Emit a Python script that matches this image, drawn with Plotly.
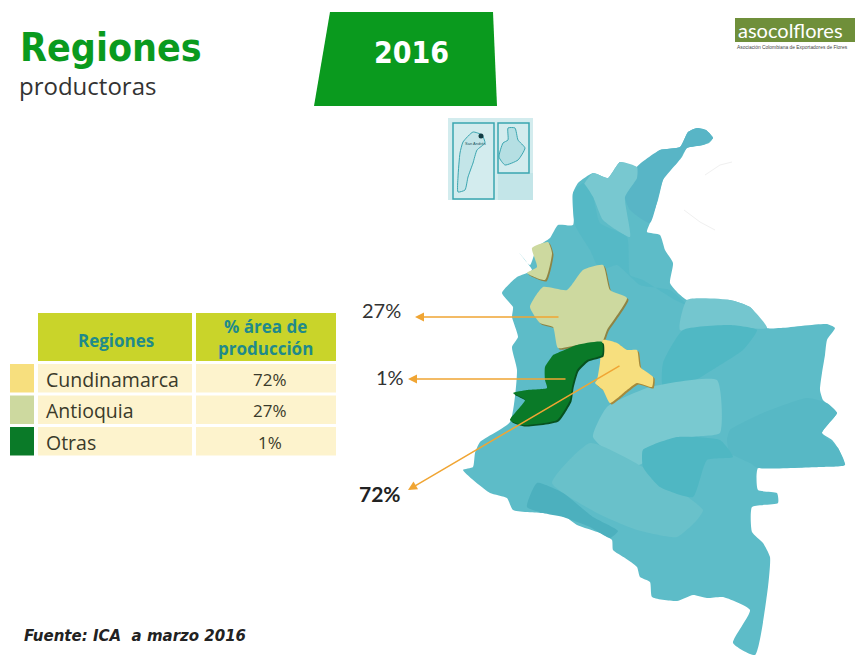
import plotly.graph_objects as go

# table values
regions = ['Cundinamarca', 'Antioquia', 'Otras']
shares = ['72%', '27%', '1%']
region_colors = ['#f7df7e', '#cdd99f', '#0a7a28']

# outlines, x and y in picture pixels
country_x = [697, 706, 713, 709, 703, 687, 682, 677, 668, 663, 658, 650, 647, 660, 665, 673, 670, 678, 687, 730, 750, 767, 780, 827, 835, 827, 825, 822,
             820, 823, 837, 829, 822, 832, 838, 845, 835, 820, 810, 803, 758, 758, 777, 778, 752, 752, 763, 770, 768, 755,
             733, 750, 723, 707, 693, 677, 652, 650, 640, 637, 625, 613, 612, 600, 577, 560, 543, 513, 507, 490, 463,
             473, 475, 480, 510, 517, 512, 518, 512, 513, 502, 517, 527, 532, 517, 530, 537, 550, 558, 573, 573,
             578, 593, 608, 620, 637, 650, 660, 680, 688]
country_y = [128, 130, 138, 143, 145, 148, 157, 163, 170, 180, 200, 223, 232, 235, 250, 263, 283, 293, 300, 300, 307, 328, 328, 324, 328, 340, 355, 373,
             390, 400, 413, 423, 433, 440, 448, 465, 457, 467, 460, 467, 468, 490, 493, 503, 507, 532, 543, 557, 587, 655,
             643, 610, 597, 598, 595, 601, 597, 582, 577, 567, 558, 550, 540, 533, 525, 513, 513, 510, 498, 493, 470,
             467, 453, 442, 422, 370, 347, 337, 317, 307, 293, 277, 273, 270, 250, 265, 247, 238, 225, 225, 193,
             183, 173, 178, 162, 167, 158, 150, 147, 132]

guajira_x = [637, 660, 680, 688, 697, 706, 713, 703, 687, 677, 663, 650, 630, 625, 637]
guajira_y = [167, 150, 147, 132, 128, 130, 138, 145, 148, 163, 180, 223, 210, 197, 178]
magdalena_x = [593, 608, 620, 637, 637, 625, 630, 603, 593, 583]
magdalena_y = [173, 178, 162, 167, 178, 197, 237, 220, 197, 187]
bolivar_x = [573, 583, 593, 600, 627, 630, 643, 675, 687, 670, 640, 617, 600, 590, 575]
bolivar_y = [193, 183, 197, 223, 237, 275, 280, 300, 305, 290, 285, 265, 270, 250, 225]
arauca_x = [687, 730, 750, 767, 730, 680]
arauca_y = [300, 300, 307, 328, 327, 330]
casanare_x = [663, 683, 730, 757, 743, 717, 690, 663]
casanare_y = [363, 330, 325, 330, 350, 367, 383, 387]
meta_x = [593, 607, 650, 717, 720, 690, 643, 643, 630]
meta_y = [437, 407, 387, 380, 433, 437, 450, 463, 467]
guaviare_x = [552, 590, 643, 703, 697, 677, 637, 597]
guaviare_y = [483, 443, 467, 510, 520, 537, 530, 513]
guainia_x = [730, 763, 807, 827, 837, 822, 838, 845, 820, 758, 750, 730, 727]
guainia_y = [430, 413, 398, 403, 413, 433, 448, 465, 467, 468, 463, 453, 440]
vaupes_x = [643, 677, 720, 733, 707, 693, 660, 643]
vaupes_y = [450, 437, 440, 457, 460, 497, 487, 467]
putumayo_x = [527, 537, 563, 593, 618, 610, 590, 563, 543]
putumayo_y = [507, 483, 493, 517, 531, 538, 527, 517, 513]

antioquia_x = [530, 543, 567, 583, 603, 610, 627, 607, 602, 577, 558, 553, 540]
antioquia_y = [307, 287, 290, 270, 265, 290, 298, 330, 342, 345, 348, 327, 323]
uraba_x = [532, 548, 552, 545, 527, 537]
uraba_y = [248, 242, 253, 280, 273, 267]
cundinamarca_x = [603, 617, 627, 637, 640, 653, 652, 637, 627, 610, 603, 595, 597, 600]
cundinamarca_y = [340, 343, 350, 350, 367, 377, 387, 383, 390, 403, 390, 383, 380, 363]
otras_x = [553, 577, 602, 602, 587, 577, 572, 570, 557, 523, 510, 525, 513, 527, 547, 545, 545, 553]
otras_y = [355, 345, 342, 355, 360, 370, 387, 400, 420, 425, 420, 400, 393, 390, 388, 380, 367, 355]

banner_x = [330, 493, 497, 314]
banner_y = [12, 12, 106, 106]
isla_x = [473, 482, 485, 477, 473, 468, 465, 458, 458, 460, 463]
isla_y = [132, 135, 143, 150, 163, 177, 190, 192, 177, 153, 142]
provi_x = [508, 515, 518, 525, 518, 505, 499, 503, 508]
provi_y = [128, 128, 140, 148, 160, 165, 157, 143, 140]
faint_x = [705, 720, 732, 0, 684, 700, 715]
faint_y = [175, 165, 162, 0, 210, 222, 230]

percent_labels = ['27%', '1%', '72%']

MAP_COLOR = '#5dbcc8'


def poly(fig, xs, ys, color, line=None, width=0, smooth=True):
    shape = dict(shape='spline', smoothing=0.5) if smooth else dict(shape='linear')
    fig.add_trace(go.Scatter(x=xs + xs[:1], y=ys + ys[:1], mode='lines', fill='toself', fillcolor=color,
                             line=dict(color=line or color, width=width, **shape), hoverinfo='skip', showlegend=False))


def rect(fig, x0, y0, x1, y1, color, line=None, width=0):
    fig.add_shape(type='rect', x0=x0, y0=y0, x1=x1, y1=y1, fillcolor=color,
                  line=dict(color=line or color, width=width), layer='below')


def label(fig, x, y, text, size, color='#333333', font='Open Sans', anchor='center'):
    fig.add_annotation(x=x, y=y, text=text, showarrow=False, xanchor=anchor, yanchor='middle',
                       font=dict(size=size, color=color, family=font))


fig = go.Figure()

# map
poly(fig, country_x, country_y, MAP_COLOR)
poly(fig, guajira_x, guajira_y, '#58b5c6')
poly(fig, magdalena_x, magdalena_y, '#78c8d0')
poly(fig, bolivar_x, bolivar_y, '#55b9c6')
poly(fig, arauca_x, arauca_y, '#74c6cf')
poly(fig, casanare_x, casanare_y, '#50b8c4')
poly(fig, meta_x, meta_y, '#79c9d0')
poly(fig, guaviare_x, guaviare_y, '#69c1ca')
poly(fig, guainia_x, guainia_y, '#57b8c5')
poly(fig, vaupes_x, vaupes_y, '#4fb7c3')
poly(fig, putumayo_x, putumayo_y, '#4cb0be')

# highlighted regions, each with a dark offset copy behind it
for xs, ys, color, shadow in [(antioquia_x, antioquia_y, region_colors[1], '#8f8444'),
                              (uraba_x, uraba_y, region_colors[1], '#8f8444'),
                              (cundinamarca_x, cundinamarca_y, region_colors[0], '#a58a3c'),
                              (otras_x, otras_y, region_colors[2], '#07511f')]:
    poly(fig, [x + 1.5 for x in xs], [y + 1.5 for y in ys], shadow)
    poly(fig, xs, ys, color)

# barely visible grey marks right of the coast
fig.add_trace(go.Scatter(x=[None if x == 0 else x for x in faint_x], y=[None if y == 0 else y for y in faint_y],
                         mode='lines', line=dict(color='#f0f0f0', width=1), hoverinfo='skip', showlegend=False))

# header
poly(fig, banner_x, banner_y, '#0a9a1e', smooth=False)
label(fig, 18, 47, '<b>Regiones</b>', 39, '#0a9a1e', 'DejaVu Sans Condensed', 'left')
label(fig, 17, 85, 'productoras', 24, '#333333', 'Open Sans', 'left')
label(fig, 411, 52, '<b>2016</b>', 30, 'white', 'DejaVu Sans Condensed')

# logo
rect(fig, 735, 18, 855, 42, '#6f8f3a')
label(fig, 736, 30, 'asocolflores', 20, 'white', 'Lato', 'left')
label(fig, 735, 47, 'Asociación Colombiana de Exportadores de Flores', 4.9, '#444444', 'Liberation Sans', 'left')

# inset
rect(fig, 448, 118, 533, 200, '#d3ecee')
rect(fig, 498, 173, 533, 200, '#c3e5e8')
rect(fig, 453, 123, 494, 199, '#d3ecee', '#3aa5b0', 1.5)
rect(fig, 498, 123, 529, 173, '#d3ecee', '#3aa5b0', 1.5)
poly(fig, isla_x, isla_y, '#c3e5e8', '#3aa5b0', 1)
poly(fig, provi_x, provi_y, '#b5dfe3', '#3aa5b0', 1)
fig.add_trace(go.Scatter(x=[481], y=[136], mode='markers', marker=dict(color='#123c44', size=5),
                         hoverinfo='skip', showlegend=False))
label(fig, 475, 143, 'San Andrés', 4, '#1a5560', 'Liberation Sans')

# table
rect(fig, 38, 313, 192, 361, '#c9d42a')
rect(fig, 196, 313, 336, 361, '#c9d42a')
label(fig, 116, 340, '<b>Regiones</b>', 17, '#1f8a8a')
label(fig, 265, 337, '<b>% área de<br>producción</b>', 17, '#1f8a8a')
for i, (name, share, color) in enumerate(zip(regions, shares, region_colors)):
    top = 364 + i * 31.5
    rect(fig, 10, top, 34, top + 28.5, color)
    rect(fig, 38, top, 192, top + 28.5, '#fdf3cd')
    rect(fig, 196, top, 336, top + 28.5, '#fdf3cd')
    label(fig, 44, top + 15, name, 19.5, '#3a3a2a', 'Open Sans', 'left')
    label(fig, 270, top + 15, share, 17, '#3a3a2a')

# arrows and percentages
for x0, y0, x1, y1 in [(560, 317, 415, 317), (567, 379, 408, 379), (621, 365, 408, 490)]:
    fig.add_annotation(x=x1, y=y1, ax=x0, ay=y0, xref='x', yref='y', axref='x', ayref='y', text='',
                       arrowhead=2, arrowsize=1.2, arrowwidth=1.5, arrowcolor='#f0a533', showarrow=True)
label(fig, 381, 310, percent_labels[0], 20, '#333333', 'Lato')
label(fig, 390, 377, percent_labels[1], 20, '#333333', 'Lato')
label(fig, 380, 493, '<b>' + percent_labels[2] + '</b>', 21, '#222222', 'Lato')

label(fig, 22, 636, '<b><i>Fuente: ICA  a marzo 2016</i></b>', 15, '#222222', 'DejaVu Sans', 'left')

fig.update_layout(width=855, height=656, margin=dict(l=0, r=0, t=0, b=0), showlegend=False,
                  paper_bgcolor='white', plot_bgcolor='white',
                  xaxis=dict(range=[0, 855], visible=False, fixedrange=True),
                  yaxis=dict(range=[656, 0], visible=False, fixedrange=True))

# the page's default body margin would push the figure 8px off
fig.write_html("out.html", config={'displayModeBar': False}, post_script="document.body.style.margin='0';")
